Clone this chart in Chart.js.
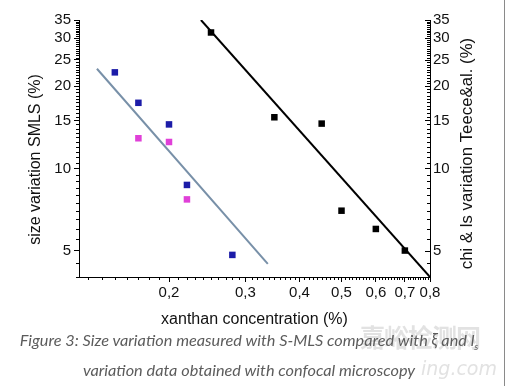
<!DOCTYPE html>
<html><head><meta charset="utf-8">
<script src="https://cdn.jsdelivr.net/npm/chart.js@4/dist/chart.umd.min.js"></script>
<style>
html,body{margin:0;padding:0;background:#fff;}
#wrap{position:relative;width:508px;height:386px;overflow:hidden;background:#fff;}
#c{position:absolute;left:0;top:0;}
.wm{position:absolute;color:#e2e2e2;font-family:"Noto Sans CJK SC",sans-serif;white-space:nowrap;}
.cap{position:absolute;left:0;width:498px;text-align:center;font-family:Lato,sans-serif;font-style:italic;font-size:16.3px;color:#5c5c5c;white-space:nowrap;line-height:20px;}
#edge{position:absolute;left:504px;top:0;width:1px;height:386px;background:#8a8a8a;}
</style></head>
<body>
<div id="wrap">
<canvas id="c" width="508" height="386"></canvas>
<div class="wm" style="left:360px;top:318px;font-size:25px;font-weight:bold;letter-spacing:-1px;">嘉峪检测网</div>
<div class="wm" style="left:421px;top:357px;font-size:19px;font-family:'DejaVu Sans',sans-serif;font-style:italic;">ing.com</div>
<div class="cap" style="top:330px;">Figure 3: Size variation measured with S-MLS compared with ξ and l<sub style="font-size:10px;line-height:0;">s</sub></div>
<div class="cap" style="top:360px;">variation data obtained with confocal microscopy</div>
<div id="edge"></div>
</div>
<script>
// ---- data ----
const blueX = [0.15, 0.17, 0.20, 0.22, 0.28];
const blueY = [22.5, 17.4, 14.5, 8.7, 4.82];
const magentaX = [0.17, 0.20, 0.22];
const magentaY = [12.9, 12.5, 7.7];
const blackX = [0.25, 0.35, 0.45, 0.50, 0.60, 0.70];
const blackY = [31.5, 15.4, 14.6, 7.0, 6.0, 5.0];
const blueFitX = [0.1364, 0.338];
const blueFitY = [23.2, 4.47];
const blackFitX = [0.237, 0.8];
const blackFitY = [35, 4];
const xTickValues = [0.2, 0.3, 0.4, 0.5, 0.6, 0.7, 0.8];
const xTickLabels = ['0,2', '0,3', '0,4', '0,5', '0,6', '0,7', '0,8'];
const yTickValues = [5, 10, 15, 20, 25, 30, 35];
const yTickLabels = ['5', '10', '15', '20', '25', '30', '35'];
const xTitle = 'xanthan concentration (%)';
const yLeftTitle = 'size variation SMLS (%)';
const yRightTitle = 'chi & ls variation Teece&al. (%)';

const pts = (xs, ys) => xs.map((x, i) => ({x: x, y: ys[i]}));
const near = (a, b) => Math.abs(a - b) < 1e-6;

// minor tick positions (every 0.01 on x, every 0.5 on y)
const xMinor = []; for (let k = 13; k <= 80; k++) xMinor.push(k / 100);
const yMinor = []; for (let k = 8; k <= 70; k++) yMinor.push(k / 2);

function buildTicks(minorVals, majorVals) {
  return function (scale) {
    scale.ticks = minorVals.map(v => ({value: v, major: majorVals.some(m => near(m, v))}));
  };
}
function labelFrom(values, labels) {
  return function (val) {
    const k = values.findIndex(v => near(v, val));
    return k >= 0 ? labels[k] : '';
  };
}

const FONT = 'Liberation Sans, Arial, sans-serif';
const axisExtras = {
  id: 'axisExtras',
  afterDraw(chart) {
    const ctx = chart.ctx;
    const xs = chart.scales.x, yl = chart.scales.y, yr = chart.scales.y2;
    ctx.save();
    ctx.strokeStyle = '#000';
    ctx.lineWidth = 1;
    ctx.beginPath();
    xs.ticks.forEach(t => {
      if (!t.major) {
        const p = Math.round(xs.getPixelForValue(t.value)) + 0.5;
        ctx.moveTo(p, xs.top); ctx.lineTo(p, xs.top + 3);
      }
    });
    yl.ticks.forEach(t => {
      if (!t.major) {
        const p = Math.round(yl.getPixelForValue(t.value)) + 0.5;
        ctx.moveTo(yl.right, p); ctx.lineTo(yl.right - 3, p);
      }
    });
    yr.ticks.forEach(t => {
      const p = Math.round(yr.getPixelForValue(t.value)) + 0.5;
      const len = t.major ? 5 : 3;
      ctx.moveTo(yr.left, p); ctx.lineTo(yr.left - len, p);
    });
    ctx.stroke();
    // vertical axis titles, both reading bottom-to-top
    ctx.fillStyle = '#111';
    ctx.textAlign = 'center';
    ctx.textBaseline = 'middle';
    const midY = (yl.top + yl.bottom) / 2;
    ctx.font = '16px ' + FONT;
    ctx.save(); ctx.translate(36, midY + 11); ctx.rotate(-Math.PI / 2); ctx.fillText(yLeftTitle, 0, 0); ctx.restore();
    ctx.font = '16.8px ' + FONT;
    ctx.save(); ctx.translate(467, midY + 5); ctx.rotate(-Math.PI / 2); ctx.fillText(yRightTitle, 0, 0); ctx.restore();
    ctx.restore();
  }
};

const majorOnly = c => (c.tick && c.tick.major) ? '#000' : 'rgba(0,0,0,0)';

new Chart(document.getElementById('c'), {
  type: 'scatter',
  data: {
    datasets: [
      {label: 'fit SMLS', type: 'line', data: pts(blueFitX, blueFitY), borderColor: '#7890a8', borderWidth: 2, pointRadius: 0, yAxisID: 'y', order: 3},
      {label: 'fit Teece', type: 'line', data: pts(blackFitX, blackFitY), borderColor: '#000', borderWidth: 2, pointRadius: 0, yAxisID: 'y2', order: 3},
      {label: 'SMLS 1', data: pts(blueX, blueY), pointStyle: 'rect', pointRadius: 4.6, backgroundColor: '#1c1ca8', borderColor: '#1c1ca8', borderWidth: 0, yAxisID: 'y', order: 1},
      {label: 'SMLS 2', data: pts(magentaX, magentaY), pointStyle: 'rect', pointRadius: 4.6, backgroundColor: '#e040d8', borderColor: '#e040d8', borderWidth: 0, yAxisID: 'y', order: 1},
      {label: 'Teece', data: pts(blackX, blackY), pointStyle: 'rect', pointRadius: 4.6, backgroundColor: '#000', borderColor: '#000', borderWidth: 0, yAxisID: 'y2', order: 1}
    ]
  },
  options: {
    responsive: false,
    animation: false,
    events: [],
    layout: {padding: {top: 20, bottom: 57, left: 0, right: 0}},
    plugins: {legend: {display: false}, tooltip: {enabled: false}},
    scales: {
      x: {
        type: 'logarithmic', position: 'bottom', min: 0.124, max: 0.8,
        afterBuildTicks: buildTicks(xMinor, xTickValues),
        afterFit: s => { s.height = 52; },
        grid: {drawOnChartArea: false, drawTicks: true, tickLength: 5, tickColor: majorOnly},
        border: {display: true, color: '#000', width: 1},
        ticks: {autoSkip: false, maxRotation: 0, minRotation: 0, padding: 2, color: '#111', font: {family: FONT, size: 15}, callback: labelFrom(xTickValues, xTickLabels)},
        title: {display: true, text: xTitle, color: '#111', font: {family: FONT, size: 16}, padding: {top: 0, bottom: 0}}
      },
      y: {
        type: 'logarithmic', position: 'left', min: 4, max: 35,
        afterBuildTicks: buildTicks(yMinor, yTickValues),
        afterFit: s => { s.width = 79; },
        grid: {drawOnChartArea: false, drawTicks: true, tickLength: 5, tickColor: majorOnly},
        border: {display: true, color: '#000', width: 1},
        ticks: {autoSkip: false, padding: 3, color: '#111', font: {family: FONT, size: 15}, callback: labelFrom(yTickValues, yTickLabels)},
        title: {display: false}
      },
      y2: {
        type: 'logarithmic', position: 'right', min: 4, max: 35,
        afterBuildTicks: buildTicks(yMinor, yTickValues),
        afterFit: s => { s.width = 78; },
        grid: {drawOnChartArea: false, drawTicks: false},
        border: {display: true, color: '#000', width: 1},
        ticks: {autoSkip: false, padding: 3, color: '#111', font: {family: FONT, size: 15}, callback: labelFrom(yTickValues, yTickLabels)},
        title: {display: false}
      }
    }
  },
  plugins: [axisExtras]
});
</script>
</body></html>
